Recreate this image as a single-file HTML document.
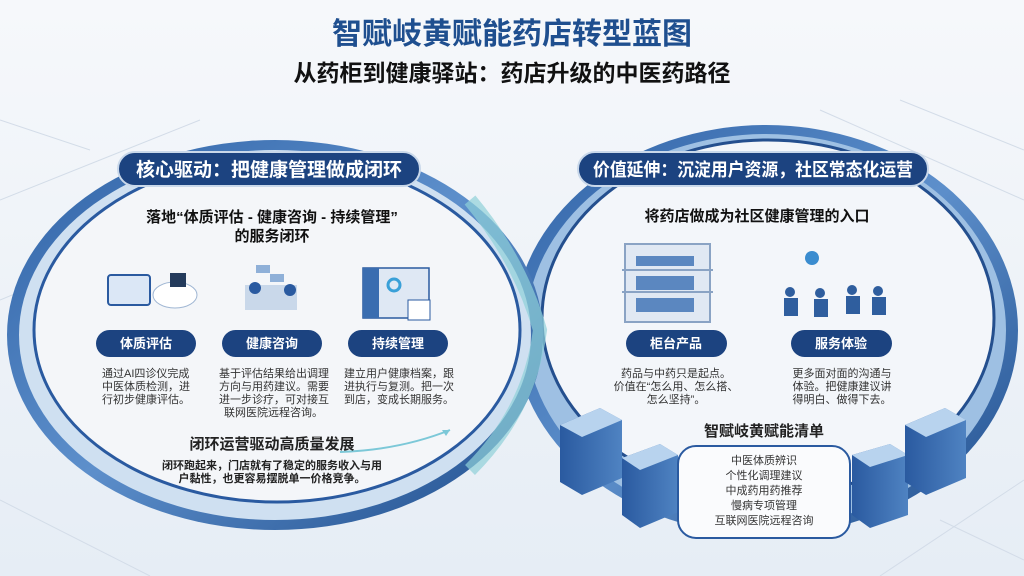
<!DOCTYPE html>
<html><head><meta charset="utf-8"><style>
html,body{margin:0;padding:0;width:1024px;height:576px;overflow:hidden;background:#eef2f7}
svg text{font-family:"Liberation Sans","Noto Sans CJK SC",sans-serif}
</style></head><body>
<svg width="1024" height="576" viewBox="0 0 1024 576" xmlns="http://www.w3.org/2000/svg">
<defs>
<linearGradient id="bg" x1="0" y1="0" x2="0" y2="1"><stop offset="0" stop-color="#f6f8fb"/><stop offset="1" stop-color="#e6edf5"/></linearGradient>
<linearGradient id="ring" x1="0" y1="0" x2="1" y2="1"><stop offset="0" stop-color="#2f62a6"/><stop offset="0.5" stop-color="#5d8fcb"/><stop offset="1" stop-color="#1f4d8c"/></linearGradient>
<linearGradient id="blk" x1="0" y1="0" x2="1" y2="0"><stop offset="0" stop-color="#2a5aa0"/><stop offset="1" stop-color="#4f83c2"/></linearGradient>
</defs>
<rect width="1024" height="576" fill="url(#bg)"/>
<g stroke="#d3dce8" stroke-width="1" fill="none">
<path d="M0 200 L200 120 M0 300 L120 250 M820 110 L1024 200 M900 100 L1024 150 M0 500 L150 576 M880 576 L1024 480 M0 120 L90 150 M940 520 L1024 560"/>
</g>
<!-- right ring -->
<ellipse cx="766" cy="330" rx="252" ry="205" fill="url(#ring)"/>
<ellipse cx="766" cy="330" rx="240" ry="196" fill="#9ec0e3"/>
<ellipse cx="768" cy="318" rx="226" ry="178" fill="#f3f6fa" stroke="#244f8e" stroke-width="3"/>
<!-- left ring -->
<ellipse cx="275" cy="335" rx="268" ry="195" fill="url(#ring)"/>
<ellipse cx="275" cy="335" rx="256" ry="185" fill="#cfe0f1"/>
<ellipse cx="277" cy="330" rx="243" ry="172" fill="#f4f6f9" stroke="#2a5aa0" stroke-width="3"/>
<!-- teal connector -->
<path d="M470 200 Q520 260 540 330 Q530 410 470 470" stroke="#8fd0d8" stroke-width="14" fill="none" opacity="0.7"/>
<path d="M340 452 Q400 450 450 430" stroke="#7cc8d8" stroke-width="2" fill="none"/>
<path d="M450 430 l-8 0 l4 6 z" fill="#7cc8d8"/>
<!-- blocks -->
<g>
<path d="M560 425 L600 408 L622 420 L622 478 L582 495 L560 482 Z" fill="url(#blk)"/>
<path d="M560 425 L600 408 L622 420 L582 437 Z" fill="#b8d3ee"/>
<path d="M622 458 L660 444 L678 455 L678 512 L640 528 L622 515 Z" fill="url(#blk)"/>
<path d="M622 458 L660 444 L678 455 L640 470 Z" fill="#b8d3ee"/>
<path d="M852 455 L890 444 L908 455 L908 515 L870 528 L852 515 Z" fill="url(#blk)"/>
<path d="M852 455 L890 444 L908 455 L870 467 Z" fill="#b8d3ee"/>
<path d="M905 425 L945 408 L966 420 L966 478 L926 495 L905 482 Z" fill="url(#blk)"/>
<path d="M905 425 L945 408 L966 420 L926 437 Z" fill="#b8d3ee"/>
</g>
<!-- Title -->
<text x="512" y="44" text-anchor="middle" font-size="30" font-weight="bold" fill="#1f4f8f">智赋岐黄赋能药店转型蓝图</text>
<text x="512" y="81" text-anchor="middle" font-size="23" font-weight="bold" fill="#111">从药柜到健康驿站：药店升级的中医药路径</text>
<!-- pills -->
<rect x="118" y="152" width="302" height="34" rx="17" fill="#1c4380" stroke="#c9d8ea" stroke-width="2"/>
<text x="269" y="176" text-anchor="middle" font-size="19" font-weight="bold" fill="#fff">核心驱动：把健康管理做成闭环</text>
<rect x="578" y="152" width="350" height="34" rx="17" fill="#1c4380" stroke="#c9d8ea" stroke-width="2"/>
<text x="753" y="176" text-anchor="middle" font-size="18" font-weight="bold" fill="#fff" textLength="320" lengthAdjust="spacingAndGlyphs">价值延伸：沉淀用户资源，社区常态化运营</text>
<!-- left content -->
<text x="272" y="222" text-anchor="middle" font-size="15" font-weight="bold" fill="#111">落地“体质评估 - 健康咨询 - 持续管理”</text>
<text x="272" y="241" text-anchor="middle" font-size="15" font-weight="bold" fill="#111">的服务闭环</text>
<!-- icons left -->
<rect x="108" y="275" width="42" height="30" rx="3" fill="#dbe7f6" stroke="#2a5aa0" stroke-width="2"/>
<ellipse cx="175" cy="295" rx="22" ry="13" fill="#fff" stroke="#9fb6d3"/>
<rect x="170" y="273" width="16" height="14" fill="#243b5c"/>
<rect x="245" y="285" width="52" height="25" fill="#c9d8ea"/>
<circle cx="255" cy="288" r="6" fill="#2a5aa0"/><circle cx="290" cy="290" r="6" fill="#2a5aa0"/>
<rect x="256" y="265" width="14" height="8" fill="#8fb0d8"/><rect x="270" y="274" width="14" height="8" fill="#8fb0d8"/>
<rect x="363" y="268" width="66" height="50" fill="#dfe8f4" stroke="#2a5aa0" stroke-width="1.5"/>
<rect x="363" y="268" width="16" height="50" fill="#3a6db0"/>
<circle cx="394" cy="285" r="6" fill="none" stroke="#3aa0d8" stroke-width="3"/>
<rect x="408" y="300" width="22" height="20" fill="#fff" stroke="#2a5aa0"/>
<!-- sub pills -->
<g font-size="13" font-weight="bold" fill="#fff" text-anchor="middle">
<rect x="96" y="330" width="100" height="27" rx="13.5" fill="#1c4380"/><text x="146" y="348">体质评估</text>
<rect x="222" y="330" width="100" height="27" rx="13.5" fill="#1c4380"/><text x="272" y="348">健康咨询</text>
<rect x="348" y="330" width="100" height="27" rx="13.5" fill="#1c4380"/><text x="398" y="348">持续管理</text>
<rect x="626" y="330" width="101" height="27" rx="13.5" fill="#1c4380"/><text x="676" y="348">柜台产品</text>
<rect x="791" y="330" width="101" height="27" rx="13.5" fill="#1c4380"/><text x="841" y="348">服务体验</text>
</g>
<g font-size="11" fill="#333">
<text x="102" y="377">通过AI四诊仪完成</text><text x="102" y="390">中医体质检测，进</text><text x="102" y="403">行初步健康评估。</text>
<text x="219" y="377">基于评估结果给出调理</text><text x="219" y="390">方向与用药建议。需要</text><text x="219" y="403">进一步诊疗，可对接互</text><text x="224" y="416">联网医院远程咨询。</text>
<text x="344" y="377">建立用户健康档案，跟</text><text x="344" y="390">进执行与复测。把一次</text><text x="344" y="403">到店，变成长期服务。</text>
</g>
<text x="272" y="449" text-anchor="middle" font-size="15" font-weight="bold" fill="#222">闭环运营驱动高质量发展</text>
<text x="272" y="469" text-anchor="middle" font-size="11" font-weight="bold" fill="#222">闭环跑起来，门店就有了稳定的服务收入与用</text>
<text x="272" y="482" text-anchor="middle" font-size="11" font-weight="bold" fill="#222">户黏性，也更容易摆脱单一价格竞争。</text>
<!-- right content -->
<text x="757" y="221" text-anchor="middle" font-size="15" font-weight="bold" fill="#111">将药店做成为社区健康管理的入口</text>
<rect x="625" y="244" width="85" height="78" fill="#e0e8f3" stroke="#8aa3c4" stroke-width="2"/>
<g fill="#5b87c0"><rect x="636" y="256" width="58" height="10"/><rect x="636" y="276" width="58" height="14"/><rect x="636" y="298" width="58" height="14"/></g>
<g stroke="#8aa3c4" stroke-width="2"><line x1="622" y1="270" x2="713" y2="270"/><line x1="622" y1="292" x2="713" y2="292"/></g>
<circle cx="812" cy="258" r="7" fill="#3a8ccf"/>
<g fill="#2f5e9e"><circle cx="790" cy="292" r="5"/><rect x="784" y="298" width="14" height="18"/><circle cx="820" cy="293" r="5"/><rect x="814" y="299" width="14" height="18"/><circle cx="852" cy="290" r="5"/><rect x="846" y="296" width="14" height="18"/><circle cx="878" cy="291" r="5"/><rect x="872" y="297" width="14" height="18"/></g>
<g font-size="11" fill="#333" text-anchor="middle">
<text x="676" y="377">药品与中药只是起点。</text><text x="676" y="390">价值在“怎么用、怎么搭、</text><text x="676" y="403">怎么坚持”。</text>
<text x="842" y="377">更多面对面的沟通与</text><text x="842" y="390">体验。把健康建议讲</text><text x="842" y="403">得明白、做得下去。</text>
</g>
<text x="764" y="436" text-anchor="middle" font-size="15" font-weight="bold" fill="#222">智赋岐黄赋能清单</text>
<rect x="678" y="446" width="172" height="92" rx="18" fill="#fafbfd" stroke="#2a5aa0" stroke-width="2"/>
<g font-size="11" fill="#333" text-anchor="middle">
<text x="764" y="464">中医体质辨识</text><text x="764" y="479">个性化调理建议</text><text x="764" y="494">中成药用药推荐</text><text x="764" y="509">慢病专项管理</text><text x="764" y="524">互联网医院远程咨询</text>
</g>
</svg>
</body></html>
